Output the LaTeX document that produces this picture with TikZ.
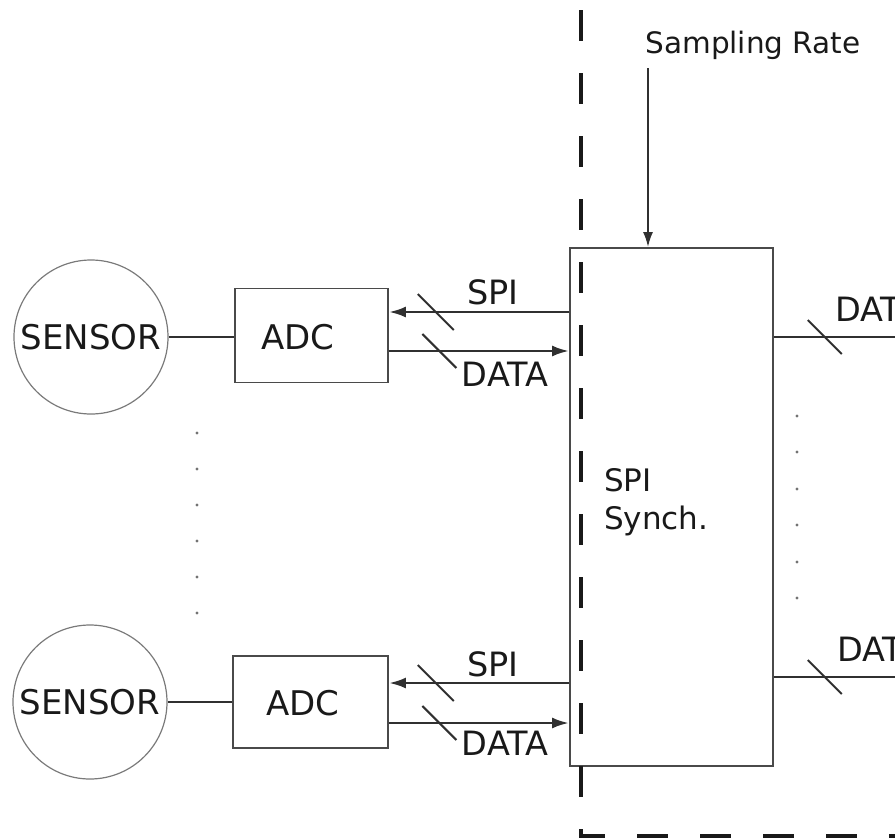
\documentclass[tikz,border=0pt]{standalone}
\usepackage{fontspec}
\setmainfont{DejaVu Sans}
\usetikzlibrary{arrows.meta,calc}
\definecolor{boxgray}{HTML}{4A4A4A}
\definecolor{linegray}{HTML}{303030}
\definecolor{circgray}{HTML}{7A7A7A}
\tikzset{
  lbl/.style={font=\fontsize{33.5}{38}\selectfont, text=black!90, inner sep=0pt},
  sensor/.style={circle, draw=circgray, line width=1.2pt, minimum size=154pt, inner sep=0pt, font=\fontsize{34}{38}\selectfont, text=black!90},
  adcbox/.style={draw=boxgray, line width=1.8pt, minimum width=153pt, minimum height=94pt, inner sep=0pt},
  adctext/.style={font=\fontsize{34}{38}\selectfont, text=black!90, inner sep=0pt},
  synchbox/.style={draw=boxgray, line width=1.8pt, minimum width=203pt, minimum height=518pt, inner sep=0pt},
  bus/.style={draw=linegray, line width=2.8pt},
  busarr/.style={bus, -{Latex[length=17pt,width=11pt]}},
  slashline/.style={draw=linegray, line width=2pt},
  plainline/.style={draw=linegray, line width=2pt},
  dotmark/.style={fill=black!55, draw=none},
  borderline/.style={draw=black!90, line width=4pt, dash pattern=on 31pt off 32pt},
}
\begin{document}
\begin{tikzpicture}[x=1pt,y=-1pt]
\useasboundingbox (0,0) rectangle (895,839);

% sensors and ADCs
\node[sensor] (s1) at (91,337) {SENSOR};
\node[sensor] (s2) at (90,702) {SENSOR};
\node[adcbox] (a1) at (311.5,335.5) {};
\node[adcbox, minimum width=155pt, minimum height=92pt] (a2) at (310.5,702) {};
\node[adctext] (a1t) at (298,337) {ADC};
\node[adctext] (a2t) at (303,703) {ADC};

% SPI synch block
\node[synchbox] (sy) at (671.5,507) {};
\node[lbl, anchor=north west, align=left, font=\fontsize{31}{38}\selectfont] (sytxt) at (604,468) {SPI\\Synch.};

% dashed border
\coordinate (bd1) at (581,10);
\coordinate (bd2) at (581,836);
\coordinate (bd3) at (900,836);
\draw[borderline] (bd1) -- (bd2) -- (bd3);

% sensor to ADC
\draw[plainline] (s1.east) -- (s1.east -| a1.west);
\draw[plainline] (s2.east) -- (s2.east -| a2.west);

% upper channel buses
\coordinate (a1spi) at ([yshift=23.5pt]a1.east);
\coordinate (a1dat) at ([yshift=-15.5pt]a1.east);
\draw[busarr] (a1spi -| sy.west) -- (a1spi);
\draw[busarr] (a1dat) -- (a1dat -| sy.west);
\draw[slashline] ($(a1spi)!0.26!(a1spi -| sy.west)$) +(-18,-18) -- +(18,18);
\draw[slashline] ($(a1dat)!0.28!(a1dat -| sy.west)$) +(-17,-17) -- +(17,17);
\node[lbl] (spi1) at (493,292) {SPI};
\node[lbl] (dat1) at (505,374) {DATA};

% lower channel buses
\coordinate (a2spi) at ([yshift=19pt]a2.east);
\coordinate (a2dat) at ([yshift=-21pt]a2.east);
\draw[busarr] (a2spi -| sy.west) -- (a2spi);
\draw[busarr] (a2dat) -- (a2dat -| sy.west);
\draw[slashline] ($(a2spi)!0.26!(a2spi -| sy.west)$) +(-18,-18) -- +(18,18);
\draw[slashline] ($(a2dat)!0.28!(a2dat -| sy.west)$) +(-17,-17) -- +(17,17);
\node[lbl] (spi2) at (493,664) {SPI};
\node[lbl] (dat2) at (505,743) {DATA};

% outputs
\coordinate (o1) at (895,337);
\coordinate (o2) at (895,677);
\draw[bus] (o1 -| sy.east) -- (o1);
\draw[bus] (o2 -| sy.east) -- (o2);
\draw[slashline] ($(o1 -| sy.east)!0.42!(o1)$) +(-17,-17) -- +(17,17);
\draw[slashline] ($(o2 -| sy.east)!0.42!(o2)$) +(-17,-17) -- +(17,17);
\node[lbl, anchor=west] (out1) at (835,309) {DATA};
\node[lbl, anchor=west] (out2) at (837,649) {DATA};

% sampling rate
\node[lbl, font=\fontsize{29.5}{34}\selectfont] (sr) at (753,45) {Sampling Rate};
\coordinate (srtop) at (648,68);
\draw[plainline, -{Latex[length=15pt,width=10pt]}] (srtop) -- (srtop |- sy.north);

% ellipsis dots
\foreach \yy in {433,469,505,541,577,613} \fill[dotmark] (197,\yy) circle (1.6pt);
\foreach \yy in {416,452,489,525,562,598} \fill[dotmark] (797,\yy) circle (1.6pt);
\end{tikzpicture}
\end{document}
